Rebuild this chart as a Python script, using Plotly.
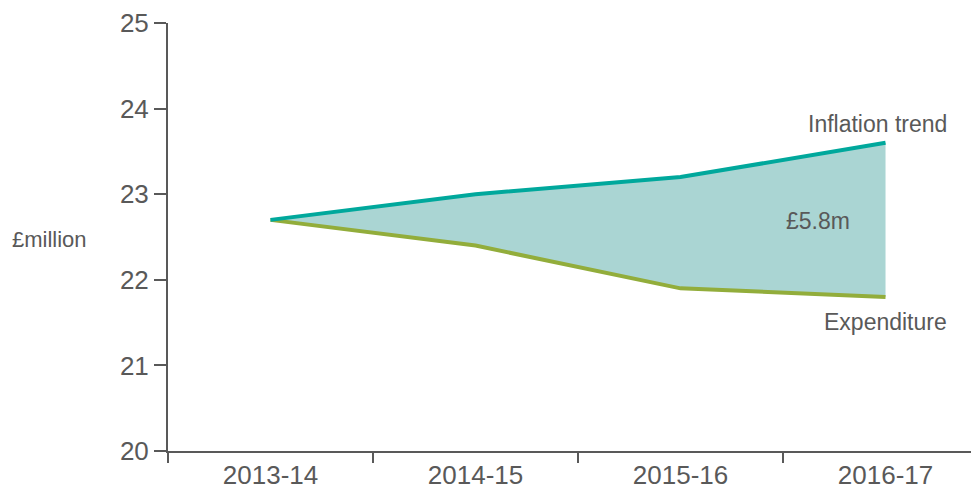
# Imports

import plotly.io         as pio
import plotly.graph_objs as go

pio.templates.default = "simple_white"

# Data
years       = ["2013-14", "2014-15", "2015-16", "2016-17"]
inflation   = [22.7, 23.0, 23.2, 23.6]
expenditure = [22.7, 22.4, 21.9, 21.8]
y_ticks     = [20, 21, 22, 23, 24, 25]
gap_label   = "£5.8m"

grey  = "#595959"
teal  = "#00a89c"
green = "#92ad3b"
fill  = "rgba(170,213,211,1)"

fig = go.Figure()
fig.add_trace(go.Scatter(x = years, y = expenditure, mode = "lines",
                         line = dict(color = green, width = 4), hoverinfo = "skip"))
fig.add_trace(go.Scatter(x = years, y = inflation, mode = "lines", fill = "tonexty",
                         fillcolor = fill, line = dict(color = teal, width = 4), hoverinfo = "skip"))

font = "Liberation Sans, Arial, sans-serif"

# the page body adds an 8px offset, so the figure is sized to fit the window
fig.update_layout(width = 971, height = 487, showlegend = False,
                  margin = dict(l = 160, r = 0, t = 12, b = 44),
                  plot_bgcolor = "white", paper_bgcolor = "white",
                  font = dict(family = font, color = grey))
fig.update_xaxes(type = "category", range = [-0.5, 3.456], tickson = "boundaries",
                 ticks = "outside", ticklen = 10, tickwidth = 2, tickcolor = grey,
                 showline = True, linecolor = grey, linewidth = 2,
                 tickfont = dict(size = 26, color = grey), showgrid = False)
fig.update_yaxes(range = [20, 25], tickvals = y_ticks, ticks = "outside", ticklen = 12,
                 tickwidth = 2, tickcolor = grey, showline = True, linecolor = grey,
                 linewidth = 2, tickfont = dict(size = 26, color = grey), showgrid = False,
                 ticklabeloverflow = "allow")

fig.add_annotation(text = "£million", xref = "paper", yref = "y", x = -0.195, y = 22.47,
                   xanchor = "left", showarrow = False, font = dict(size = 22, color = grey))
fig.add_annotation(text = "Inflation trend", x = 2.96, y = 23.82, showarrow = False,
                   font = dict(size = 23, color = grey))
fig.add_annotation(text = "Expenditure", x = 3.0, y = 21.51, showarrow = False,
                   font = dict(size = 23, color = grey))
fig.add_annotation(text = gap_label, x = 2.67, y = 22.69, showarrow = False,
                   font = dict(size = 23, color = grey))

fig.write_html("out.html")
